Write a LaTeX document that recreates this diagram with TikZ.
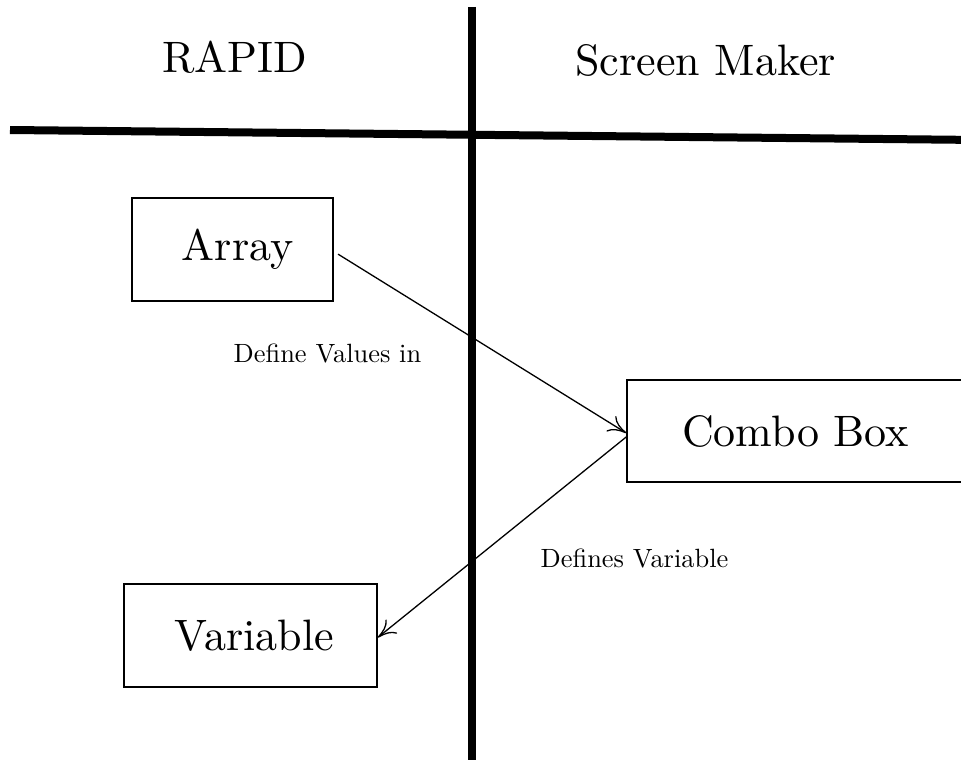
\documentclass[tikz,border=0pt]{standalone}
\usetikzlibrary{arrows.meta}
\newcommand{\bigtxt}[1]{\scalebox{4.4}{\fontsize{10}{12}\selectfont #1}}
\newcommand{\smalltxt}[1]{\scalebox{2.64}{\fontsize{10}{12}\selectfont #1}}
\begin{document}
\begin{tikzpicture}[x=1pt,y=-1pt,
  box/.style={draw,line width=1.6pt,inner sep=0pt},
  divider/.style={line width=8pt},
  link/.style={line width=1.3pt,-{To[length=18pt,width=18pt]}}]
\useasboundingbox (0,0) rectangle (961,760);
\coordinate (hl) at (10,130);
\coordinate (hr) at (980,140);
\coordinate (vt) at (472,7);
\coordinate (vb) at (472,775);
\draw[divider] (hl) -- (hr);
\draw[divider] (vt) -- (vb);
\node[anchor=base] (rapid) at (234.5,73) {\bigtxt{RAPID}};
\node[anchor=base] (sm) at (705.5,75) {\bigtxt{Screen Maker}};
\node[box,minimum width=201pt,minimum height=103pt] (array) at (232.5,249.5) {\hspace*{10pt}\bigtxt{Array}};
\node[box,minimum width=337pt,minimum height=102pt] (combo) at (795.5,431) {\bigtxt{Combo Box}};
\node[box,minimum width=253pt,minimum height=103pt] (var) at (250.5,635.5) {\hspace*{8pt}\bigtxt{Variable}};
\node[anchor=base] (lab1) at (327.5,362) {\smalltxt{Define Values in}};
\node[anchor=base] (lab2) at (634.5,567) {\smalltxt{Defines Variable}};
\draw[link,shorten <=5pt] ([yshift=-2pt]array.east) -- ([yshift=-2pt]combo.west);
\draw[link] ([yshift=-6pt]combo.west) -- ([yshift=-2pt]var.east);
\end{tikzpicture}
\end{document}
